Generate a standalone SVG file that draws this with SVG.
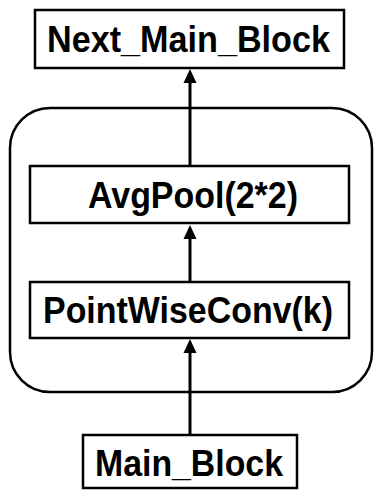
<svg xmlns="http://www.w3.org/2000/svg" width="375" height="491" viewBox="0 0 375 491">
<style>
.box{fill:#fff;stroke:#000;stroke-width:2.5}
.grp{fill:none;stroke:#000;stroke-width:2.5}
.lbl{font-family:"Liberation Sans",Arial,sans-serif;font-weight:bold;font-size:36px;text-anchor:middle;fill:#000}
.edge{stroke:#000;stroke-width:3;fill:none}
.head{fill:#000}
</style>
<rect id="container" class="grp" x="10" y="108" width="362" height="284" rx="40" ry="40"/>
<g id="next_main_block">
<rect class="box" x="35" y="10" width="309" height="58"/>
<text class="lbl" x="188.5" y="52" textLength="283" lengthAdjust="spacingAndGlyphs">Next_Main_Block</text>
</g>
<g id="avgpool">
<rect class="box" x="30" y="166" width="319" height="57"/>
<text class="lbl" x="193" y="208" textLength="210" lengthAdjust="spacingAndGlyphs">AvgPool(2*2)</text>
</g>
<g id="pointwiseconv">
<rect class="box" x="30" y="282" width="319" height="56"/>
<text class="lbl" x="188" y="323" textLength="290" lengthAdjust="spacingAndGlyphs">PointWiseConv(k)</text>
</g>
<g id="main_block">
<rect class="box" x="83" y="435" width="214" height="53"/>
<text class="lbl" x="189" y="476" textLength="188" lengthAdjust="spacingAndGlyphs">Main_Block</text>
</g>
<g id="connectors">
<line class="edge" x1="190" y1="166" x2="190" y2="80"/>
<polygon class="head" points="190,69 183.5,83 196.5,83"/>
<line class="edge" x1="190" y1="282" x2="190" y2="236"/>
<polygon class="head" points="190,225 183.5,239 196.5,239"/>
<line class="edge" x1="190" y1="435" x2="190" y2="350"/>
<polygon class="head" points="190,339 183.5,353 196.5,353"/>
</g>
</svg>
